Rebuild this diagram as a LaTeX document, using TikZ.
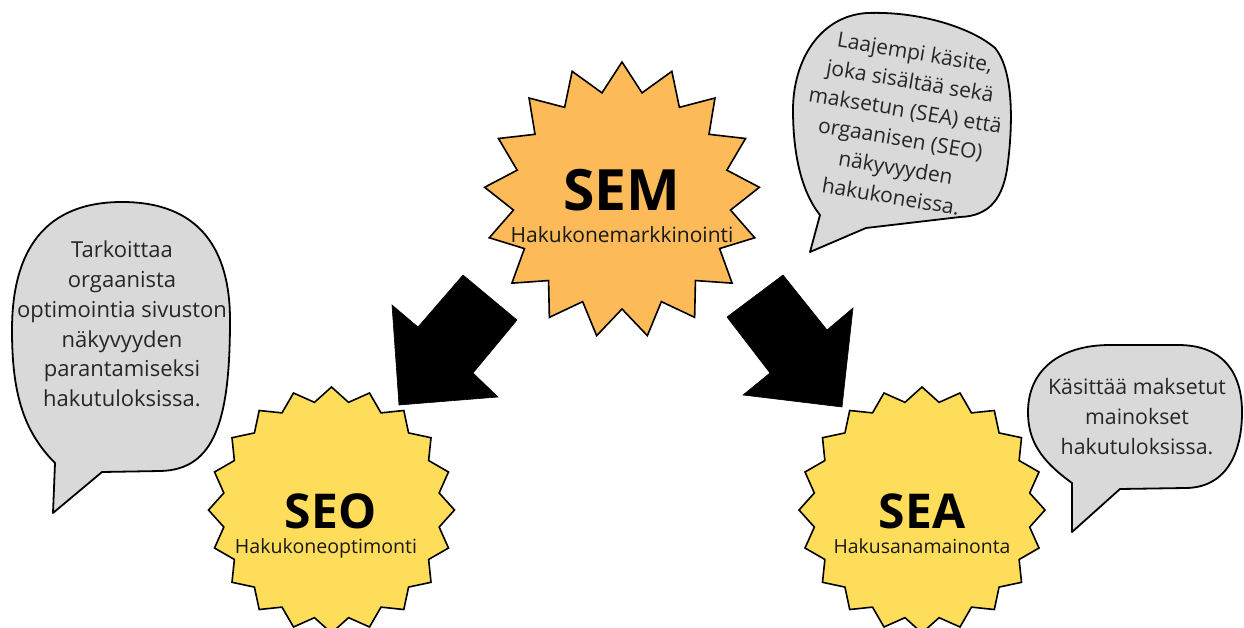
\documentclass[tikz,border=0pt]{standalone}
\usepackage{fontspec}
\setmainfont{Open Sans}
\definecolor{semorange}{HTML}{FCBA58}
\definecolor{subyellow}{HTML}{FEDD5A}
\definecolor{bubblegray}{HTML}{D9D9D9}
\definecolor{notetext}{HTML}{262626}
\begin{document}
\begin{tikzpicture}[x=1pt,y=-1pt,
  starline/.style={draw=black, line width=1.6pt, line join=miter},
  bubble/.style={draw=black, line width=1.8pt, fill=bubblegray, line join=round},
  blockarrow/.style={fill=black, draw=black, line width=0.6pt, line join=miter},
  bigtitle/.style={anchor=base, text=black, inner sep=0pt},
  subtitle/.style={anchor=base, text=black!90, inner sep=0pt},
  notetextstyle/.style={align=center, text=notetext, inner sep=0pt}]

\useasboundingbox (0,0) rectangle (1244,627);
\clip (0,0) rectangle (1244,627);

% centres of the three starbursts
\coordinate (semC) at (622,200);
\coordinate (seoC) at (331.5,510);
\coordinate (seaC) at (922,510);

% block arrows from SEM down to SEO and SEA
\draw[blockarrow] (463,275) -- (517,320) -- (473,373) -- (498,397) -- (399,405) -- (392,305) -- (418,327) -- cycle;
\draw[blockarrow] (727,317) -- (783,275) -- (827,330) -- (853,308) -- (842,407) -- (743,395) -- (770,373) -- cycle;

% SEM starburst: 17 points
\begin{scope}[shift={(semC)}]
  \draw[starline, fill=semorange] (-90:138)
    \foreach \i in {1,...,33} { -- ({-90+\i*180/17}:{123.5+14.5*cos(\i*180)}) } -- cycle;
\end{scope}

% SEO and SEA starbursts: 20 points each
\begin{scope}[shift={(seoC)}]
  \draw[starline, fill=subyellow] (-90:123)
    \foreach \i in {1,...,39} { -- ({-90+\i*180/20}:{116+7*cos(\i*180)}) } -- cycle;
\end{scope}
\begin{scope}[shift={(seaC)}]
  \draw[starline, fill=subyellow] (-90:123)
    \foreach \i in {1,...,39} { -- ({-90+\i*180/20}:{116+7*cos(\i*180)}) } -- cycle;
\end{scope}

% speech bubbles
\draw[bubble] (55,463) .. controls (22,430) and (12,390) .. (12,330)
  .. controls (12,250) and (45,202) .. (122,202)
  .. controls (200,202) and (230,250) .. (230,320)
  .. controls (230,420) and (215,470) .. (160,471)
  -- (102,472) -- (53,513) -- cycle;

\draw[bubble] (820,215) .. controls (800,190) and (793,150) .. (793,110)
  .. controls (793,60) and (820,16) .. (867,13)
  .. controls (920,11) and (972,28) .. (995,48)
  .. controls (1015,72) and (1012,130) .. (1008,162)
  .. controls (1004,198) and (990,216) .. (960,217)
  -- (866,228) -- (810,252) -- cycle;

\draw[bubble] (1072,483) .. controls (1040,460) and (1028,440) .. (1028,412)
  .. controls (1028,370) and (1060,345) .. (1110,345)
  -- (1178,345) .. controls (1225,345) and (1242,375) .. (1242,412)
  .. controls (1242,455) and (1225,488) .. (1185,488)
  -- (1120,489) -- (1072,532) -- cycle;

% star labels
\node[bigtitle, font=\bfseries\fontsize{57}{57}\selectfont] (semT) at (622,210) {SEM};
\node[subtitle, font=\fontsize{21}{21}\selectfont] (semS) at (622,242) {Hakukonemarkkinointi};
\node[bigtitle, font=\bfseries\fontsize{48}{48}\selectfont] (seoT) at (330.5,528) {SEO};
\node[subtitle, font=\fontsize{19.6}{19.6}\selectfont] (seoS) at (326,553) {Hakukoneoptimonti};
\node[bigtitle, font=\bfseries\fontsize{48}{48}\selectfont] (seaT) at (922,528) {SEA};
\node[subtitle, font=\fontsize{19.4}{19.4}\selectfont] (seaS) at (922,553) {Hakusanamainonta};

% bubble texts
\node[notetextstyle, font=\fontsize{22}{29.8}\selectfont] (seoNote) at (122,324)
  {Tarkoittaa\\orgaanista\\optimointia sivuston\\näkyvyyden\\parantamiseksi\\hakutuloksissa.};
\node[notetextstyle, font=\fontsize{21}{29.2}\selectfont, rotate=-9.5] (semNote) at (903,124)
  {Laajempi käsite,\\joka sisältää sekä\\maksetun (SEA) että\\orgaanisen (SEO)\\näkyvyyden\\hakukoneissa.};
\node[notetextstyle, font=\fontsize{21.3}{30}\selectfont] (seaNote) at (1137,417)
  {Käsittää maksetut\\mainokset\\hakutuloksissa.};
\end{tikzpicture}
\end{document}
